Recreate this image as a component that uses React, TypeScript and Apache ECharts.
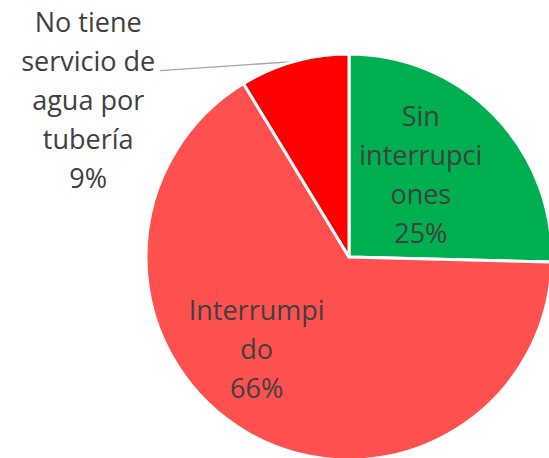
import React, { useEffect, useRef } from "react";
import * as echarts from "echarts";

const categories = ["Sin interrupciones", "Interrumpido", "No tiene servicio de agua por tubería"];
const values = [25.4, 65.9, 8.7];
const labelTexts = ["Sin\ninterrupci\nones", "Interrumpi\ndo", "No tiene\nservicio de\nagua por\ntubería"];
const colors = ["#00B050", "#FF5050", "#FF0000"];

const FONT = "'Open Sans', sans-serif";
const TEXT_COLOR = "#404040";

export default function App() {
  const ref = useRef<HTMLDivElement>(null);
  useEffect(() => {
    const chart = echarts.init(ref.current!, null, { renderer: "svg" });
    const data = categories.map((name, i) => {
      const item: any = { name, value: values[i], itemStyle: { color: colors[i] } };
      if (i === 2) {
        item.label = { position: "outside", padding: [76, 0, 0, 0] };
        item.labelLine = { show: true, length: 0, length2: 134, smooth: false, lineStyle: { color: "#A6A6A6", width: 1.3 } };
      }
      return item;
    });
    chart.setOption({
      animation: false,
      series: [
        {
          type: "pie",
          center: [349, 257],
          radius: 203,
          startAngle: 90,
          clockwise: true,
          avoidLabelOverlap: false,
          itemStyle: { borderColor: "#ffffff", borderWidth: 3 },
          label: {
            show: true,
            position: "inside",
            fontFamily: FONT,
            fontSize: 27,
            lineHeight: 39,
            color: TEXT_COLOR,
            formatter: (p: any) => {
              const lines = (labelTexts[p.dataIndex] + "\n" + Math.round(p.percent) + "%").split("\n");
              return lines.map((l) => "{c|" + l + "}").join("\n");
            },
            rich: {
              c: { align: "center", fontFamily: FONT, fontSize: 27, lineHeight: 39, color: TEXT_COLOR },
            },
          },
          labelLine: { show: false },
          labelLayout: (p: any) => {
            if (p.dataIndex === 0) return { dx: -3, dy: -10 };
            if (p.dataIndex === 1) return { dx: -40, dy: 1 };
            if (p.labelLinePoints && p.labelLinePoints.length) {
              const pts = p.labelLinePoints.map((q: number[]) => [q[0], q[1]]);
              const last = pts[pts.length - 1];
              last[1] += 9;
              return { labelLinePoints: pts };
            }
            return {};
          },
          emphasis: { disabled: true },
          data,
        },
      ],
    });
    return () => chart.dispose();
  }, []);
  return <div ref={ref} style={{ position: "absolute", left: 0, top: 0, width: 549, height: 458 }} />;
}
